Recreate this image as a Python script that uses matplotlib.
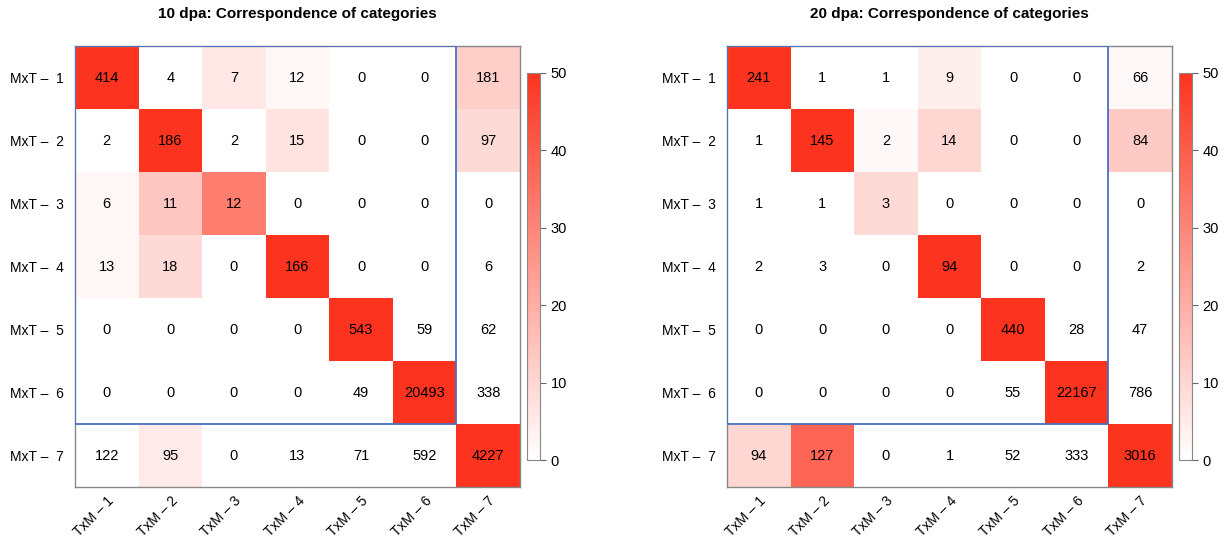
import matplotlib.pyplot as plt
import numpy as np
from matplotlib.colors import LinearSegmentedColormap
from matplotlib.patches import Rectangle

plt.rcParams['font.family'] = ['Liberation Sans', 'DejaVu Sans']

row_labels = ["MxT –  %d" % i for i in range(1, 8)]
col_labels = ["TxM – %d" % i for i in range(1, 8)]

titles = ["10 dpa: Correspondence of categories", "20 dpa: Correspondence of categories"]

# counts shown in the cells
counts_10 = [
    [414, 4, 7, 12, 0, 0, 181],
    [2, 186, 2, 15, 0, 0, 97],
    [6, 11, 12, 0, 0, 0, 0],
    [13, 18, 0, 166, 0, 0, 6],
    [0, 0, 0, 0, 543, 59, 62],
    [0, 0, 0, 0, 49, 20493, 338],
    [122, 95, 0, 13, 71, 592, 4227],
]
counts_20 = [
    [241, 1, 1, 9, 0, 0, 66],
    [1, 145, 2, 14, 0, 0, 84],
    [1, 1, 3, 0, 0, 0, 0],
    [2, 3, 0, 94, 0, 0, 2],
    [0, 0, 0, 0, 440, 28, 47],
    [0, 0, 0, 0, 55, 22167, 786],
    [94, 127, 0, 1, 52, 333, 3016],
]

# colour score of each cell (0-50 scale)
score_10 = [
    [50, 0, 6, 2, 0, 0, 12],
    [0, 50, 0, 7, 0, 0, 9],
    [2, 14, 32, 0, 0, 0, 0],
    [2, 9, 0, 50, 0, 0, 0],
    [0, 0, 0, 0, 50, 0, 0],
    [0, 0, 0, 0, 0, 50, 0],
    [0, 5, 0, 0, 0, 0, 50],
]
score_20 = [
    [50, 0, 0, 4, 0, 0, 1.5],
    [0, 50, 1.5, 10, 0, 0, 13],
    [0, 0, 9, 0, 0, 0, 0],
    [0, 0, 0, 50, 0, 0, 0],
    [0, 0, 0, 0, 50, 0, 0],
    [0, 0, 0, 0, 0, 50, 0],
    [10, 38, 0, 0, 0, 0, 50],
]

cmap = LinearSegmentedColormap.from_list("wr", ["#ffffff", "#fc341f"])

W, H = 1227, 543
fig = plt.figure(figsize=(W / 100, H / 100), dpi=100)

def draw(x0, counts, score, title):
    ax = fig.add_axes([x0 / W, (H - 487) / H, 445 / W, 441 / H])
    im = ax.imshow(np.array(score), cmap=cmap, vmin=0, vmax=50, aspect='auto')
    n = len(row_labels)
    for i in range(n):
        for j in range(n):
            ax.text(j, i, str(counts[i][j]), ha='center', va='center', fontsize=10.5, color='black')
    ax.set_xticks(range(n))
    ax.set_xticklabels(col_labels, rotation=45, ha='right', rotation_mode='anchor', fontsize=10)
    ax.set_yticks(range(n))
    ax.set_yticklabels(row_labels, fontsize=10)
    ax.tick_params(axis='y', length=0, pad=8)
    ax.tick_params(axis='x', length=0, pad=5)
    for s in ax.spines.values():
        s.set_color('#888888')
        s.set_linewidth(1)
    ax.add_patch(Rectangle((-0.5, -0.5), 6, 6, fill=False, edgecolor='#4a6fc4', linewidth=1.3, zorder=5))
    ax.set_title(title, fontsize=11, fontweight='bold', pad=20)

    cax = fig.add_axes([(x0 + 452) / W, (H - 460) / H, 13 / W, 387 / H])
    cb = fig.colorbar(im, cax=cax, ticks=[0, 10, 20, 30, 40, 50])
    cb.outline.set_edgecolor('#888888')
    cax.tick_params(labelsize=10.5, length=4, color='#666666')

draw(75, counts_10, score_10, titles[0])
draw(727, counts_20, score_20, titles[1])

fig.savefig("out.png", dpi=100)
